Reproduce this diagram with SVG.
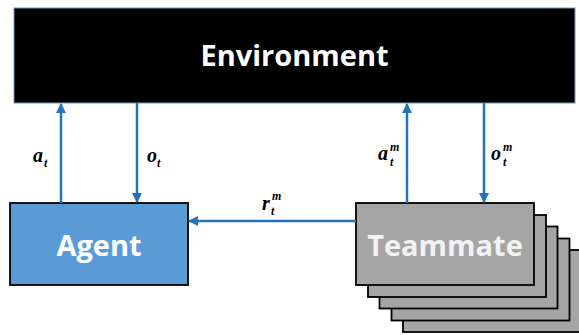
<svg xmlns="http://www.w3.org/2000/svg" width="579" height="335" viewBox="0 0 579 335">
<style>
.lbl{font-family:"Open Sans","DejaVu Sans",sans-serif;font-weight:bold;fill:#ffffff;text-anchor:middle}
.m{font-family:"Liberation Serif","DejaVu Serif",serif;font-weight:bold;font-style:italic;fill:#000}
.big{font-size:20px}
.sm{font-size:12px}
.conn{stroke:#2474bc;stroke-width:2.5;fill:none}
.tm{fill:#a5a5a5;stroke:#000;stroke-width:1.8}
</style>
<defs>
<marker id="ah" viewBox="0 0 10 10" refX="9" refY="5" markerWidth="4" markerHeight="4" orient="auto" markerUnits="strokeWidth">
<path d="M0,0 L10,5 L0,10 z" fill="#2474bc"/>
</marker>
</defs>
<rect width="579" height="335" fill="#ffffff"/>
<g id="environment">
<rect x="14" y="8" width="561" height="95" fill="#000" stroke="#6f97c2" stroke-width="1"/>
<text class="lbl" x="294.5" y="66" font-size="29">Environment</text>
</g>
<g id="agent">
<rect x="10" y="203" width="178" height="82" fill="#5b9bd5" stroke="#000" stroke-width="1.8"/>
<text class="lbl" x="99" y="256" font-size="29">Agent</text>
</g>
<g id="teammate">
<rect class="tm" x="403" y="250" width="178" height="82"/>
<rect class="tm" x="391.5" y="238.5" width="178" height="82"/>
<rect class="tm" x="379.5" y="226.5" width="178" height="82"/>
<rect class="tm" x="368" y="215" width="178" height="82"/>
<rect class="tm" x="356" y="203" width="178" height="82"/>
<text class="lbl" x="445" y="256" font-size="29" style="fill:#f2f2f2">Teammate</text>
</g>
<g id="connectors">
<line class="conn" x1="61" y1="203" x2="61" y2="104" marker-end="url(#ah)"/>
<line class="conn" x1="137" y1="103" x2="137" y2="202" marker-end="url(#ah)"/>
<line class="conn" x1="407" y1="203" x2="407" y2="104" marker-end="url(#ah)"/>
<line class="conn" x1="484" y1="103" x2="484" y2="202" marker-end="url(#ah)"/>
<line class="conn" x1="356" y1="221" x2="189" y2="221" marker-end="url(#ah)"/>
</g>
<g id="labels">
<text class="m big" x="33" y="162">a</text><text class="m sm" x="44" y="167">t</text>
<text class="m big" x="147" y="162">o</text><text class="m sm" x="157" y="167">t</text>
<text class="m big" x="378" y="160">a</text><text class="m sm" x="390" y="151">m</text><text class="m sm" x="390" y="166">t</text>
<text class="m big" x="491" y="160">o</text><text class="m sm" x="503" y="151">m</text><text class="m sm" x="503" y="166">t</text>
<text class="m big" x="262" y="210">r</text><text class="m sm" x="272" y="200">m</text><text class="m sm" x="271" y="215">t</text>
</g>
</svg>
